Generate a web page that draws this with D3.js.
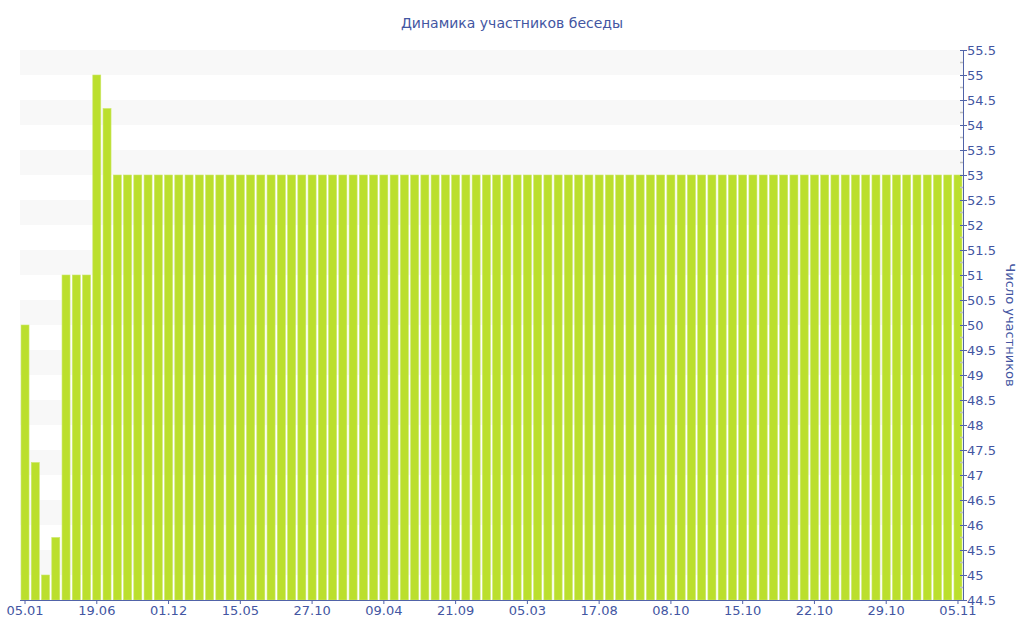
<!DOCTYPE html>
<html><head><meta charset="utf-8">
<script src="https://cdn.jsdelivr.net/npm/d3@7"></script>
<style>body{margin:0;background:#fff}svg{display:block}</style>
</head><body><svg id="c" width="1024" height="640"></svg>
<script>
const title = "Динамика участников беседы";
const yTitle = "Число участников";
const tickLabels = ["05.01","19.06","01.12","15.05","27.10","09.04","21.09","05.03","17.08","08.10","15.10","22.10","29.10","05.11"];
const headValues = [50, 47.25, 45, 45.75, 51, 51, 51, 55, 54.33];
const tailValue = 53, tailCount = 83;
const values = headValues.concat(Array.from({length: tailCount}, () => tailValue));
const categories = values.map((v, i) => i);
const yTicks = d3.range(44.5, 55.51, 0.5);

const svg = d3.select("#c");
const m = {l: 20, r: 61, t: 50, b: 40};
const W = 1024, H = 640;
const x = d3.scaleBand().domain(categories).range([m.l, W - m.r]).paddingInner(0.22).paddingOuter(0.1);
const y = d3.scaleLinear().domain([44.5, 55.5]).range([H - m.b, m.t]);
const txt = "#4356a2", ax = "#5163a8";
const font = "DejaVu Sans, Verdana, sans-serif";

// stripes
svg.append("g").selectAll("rect").data(d3.range(45, 56, 1)).join("rect")
  .attr("x", m.l).attr("width", W - m.r - m.l)
  .attr("y", d => y(Math.min(d + 0.5, 55.5))).attr("height", d => y(d) - y(Math.min(d + 0.5, 55.5)))
  .attr("fill", "#f8f8f8");

// bars
svg.append("g").selectAll("rect").data(values).join("rect")
  .attr("x", (d, i) => x(i)).attr("width", x.bandwidth())
  .attr("y", d => y(d)).attr("height", d => y(44.5) - y(d))
  .attr("fill", "#bbdf2d").attr("stroke", "#cbe86a").attr("stroke-width", 0.6);

// minor ticks on right axis
svg.append("g").selectAll("line").data(d3.range(44.75, 55.5, 0.5)).join("line")
  .attr("x1", W - m.r - 3).attr("x2", W - m.r).attr("y1", d => y(d)).attr("y2", d => y(d))
  .attr("stroke", "#c0c0c0").attr("stroke-width", 1.5);

// right axis
const ya = svg.append("g").attr("transform", `translate(${W - m.r},0)`)
  .call(d3.axisRight(y).tickValues(yTicks).tickFormat(d3.format("~g")).tickSize(4).tickSizeOuter(0));
ya.select(".domain").attr("stroke", ax);
ya.selectAll(".tick line").attr("stroke", ax).attr("x1", -3);
ya.selectAll(".tick text").attr("fill", txt).attr("x", 4).style("font-family", font).style("font-size", "13px");

// bottom axis
const tickIdx = tickLabels.map((t, i) => i * 7);
const xa = svg.append("g").attr("transform", `translate(0,${H - m.b})`)
  .call(d3.axisBottom(x).tickValues(tickIdx).tickFormat((d, i) => tickLabels[i]).tickSize(4).tickSizeOuter(0));
xa.select(".domain").attr("stroke", ax).attr("d", `M${m.l},0.5H${W - m.r}`);
xa.selectAll(".tick line").attr("stroke", ax);
xa.selectAll(".tick text").attr("fill", txt).attr("y", 6).style("font-family", font).style("font-size", "13px");

// titles
svg.append("text").attr("x", 512).attr("y", 28).attr("text-anchor", "middle")
  .attr("fill", txt).style("font-family", font).style("font-size", "14px").text(title);
svg.append("text").attr("transform", `translate(1006,325) rotate(90)`).attr("text-anchor", "middle")
  .attr("fill", txt).style("font-family", font).style("font-size", "13px").text(yTitle);
</script></body></html>
